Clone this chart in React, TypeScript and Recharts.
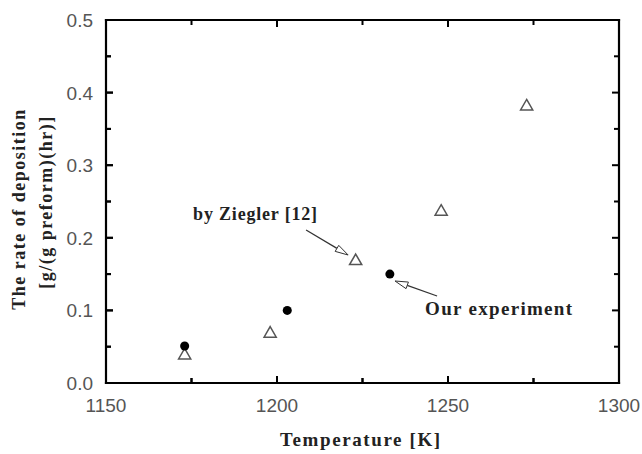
import { ScatterChart, Scatter, XAxis, YAxis, ZAxis, ReferenceLine } from 'recharts';

const xTicks = [1150, 1175, 1200, 1225, 1250, 1275, 1300];
const yTicks = [0, 0.05, 0.1, 0.15, 0.2, 0.25, 0.3, 0.35, 0.4, 0.45, 0.5];

const ourTemp = [1173, 1203, 1233];
const ourRate = [0.051, 0.1, 0.15];

const zieglerTemp = [1173, 1198, 1223, 1248, 1273];
const zieglerRate = [0.038, 0.068, 0.168, 0.236, 0.381];

const ourData = ourTemp.map((t, i) => ({ t, r: ourRate[i] }));
const zieglerData = zieglerTemp.map((t, i) => ({ t, r: zieglerRate[i] }));

const X0 = 1150;
const X1 = 1300;
const Y0 = 0;
const Y1 = 0.5;

const serif = '"Liberation Serif", "Times New Roman", serif';
const sans = '"Liberation Sans", Arial, sans-serif';

const isMajorX = (v: number) => v % 50 === 0;
const isMajorY = (v: number) => Math.round(v * 100) % 10 === 0;

const XTickLabel = (props: any) => {
  const { x, y, payload } = props;
  const v = payload.value;
  return (
    <g>
      <line x1={x} y1={y} x2={x} y2={y - (isMajorX(v) ? 7 : 5)} stroke="#000" strokeWidth={2} />
      {isMajorX(v) && (
        <text x={x} y={y + 29} textAnchor="middle" fontFamily={sans} fontSize={19} fill="#555">
          {v}
        </text>
      )}
    </g>
  );
};

const YTickLabel = (props: any) => {
  const { x, y, payload } = props;
  const v = payload.value;
  return (
    <g>
      <line x1={x} y1={y} x2={x + (isMajorY(v) ? 7 : 5)} y2={y} stroke="#000" strokeWidth={2} />
      {isMajorY(v) && (
        <text x={x - 13} y={y + 7} textAnchor="end" fontFamily={sans} fontSize={19} fill="#555">
          {v.toFixed(1)}
        </text>
      )}
    </g>
  );
};

// arrow with its note text, placed relative to the arrow's tail
const Arrow = (text: string, size: number, width: number, dx: number, dy: number) => (props: any) => {
  const { x1, y1, x2, y2 } = props;
  const ang = Math.atan2(y2 - y1, x2 - x1);
  const hl = 13;
  const hw = 3.5;
  const bx = x2 - hl * Math.cos(ang);
  const by = y2 - hl * Math.sin(ang);
  const px = -Math.sin(ang) * hw;
  const py = Math.cos(ang) * hw;
  return (
    <g>
      <line x1={x1} y1={y1} x2={bx} y2={by} stroke="#333" strokeWidth={1.2} />
      <polygon points={`${x2},${y2} ${bx + px},${by + py} ${bx - px},${by - py}`} fill="#fff" stroke="#333" strokeWidth={1} />
      <text x={x1 + dx} y={y1 + dy} fontFamily={serif} fontWeight="bold" fontSize={size} fill="#222" textLength={width} lengthAdjust="spacing">
        {text}
      </text>
    </g>
  );
};

// short inward tick drawn from the first point of the segment
const InTick = (dx: number, dy: number) => (props: any) => {
  const { x1, y1 } = props;
  return <line x1={x1} y1={y1} x2={x1 + dx} y2={y1 + dy} stroke="#000" strokeWidth={2} />;
};

const Frame = (props: any) => {
  const { x1, y1, x2, y2 } = props;
  return <line x1={x1} y1={y1} x2={x2} y2={y2} stroke="#000" strokeWidth={2.2} strokeLinecap="square" />;
};

const titleStyle: any = {
  position: 'absolute',
  fontFamily: serif,
  fontWeight: 'bold',
  color: '#222',
  whiteSpace: 'nowrap',
  lineHeight: '1',
};

export default function App() {
  return (
    <div style={{ position: 'absolute', left: 0, top: 0, width: 642, height: 454, background: '#fff' }}>
      <ScatterChart width={642} height={454} margin={{ top: 20, right: 23, bottom: 0, left: 0 }}>
        <XAxis
          dataKey="t"
          type="number"
          domain={[X0, X1]}
          ticks={xTicks}
          height={71}
          tickSize={0}
          tickMargin={0}
          tickLine={false}
          axisLine={{ stroke: '#000', strokeWidth: 2 }}
          tick={<XTickLabel />}
          interval={0}
        />
        <YAxis
          dataKey="r"
          type="number"
          domain={[Y0, Y1]}
          ticks={yTicks}
          width={106}
          tickSize={0}
          tickMargin={0}
          tickLine={false}
          axisLine={{ stroke: '#000', strokeWidth: 2 }}
          tick={<YTickLabel />}
          interval={0}
        />
        <ZAxis range={[56, 56]} />

        <Scatter data={zieglerData} shape="triangle" fill="#fff" stroke="#555" strokeWidth={1.5} isAnimationActive={false} />
        <Scatter data={ourData} shape="circle" fill="#000" isAnimationActive={false} />
        <ReferenceLine
          segment={[{ x: 1208.5, y: 0.2107 }, { x: 1220.8, y: 0.1763 }]}
          shape={Arrow('by Ziegler [12]', 18, 124, -113, -10)}
        />
        <ReferenceLine
          segment={[{ x: 1246.8, y: 0.1198 }, { x: 1234.5, y: 0.1405 }]}
          shape={Arrow('Our experiment', 19, 147, -12, 19)}
        />

        {xTicks.map((v) => (
          <ReferenceLine key={`xb${v}`} segment={[{ x: v, y: Y0 }, { x: v, y: Y1 }]} shape={InTick(0, isMajorX(v) ? -7 : -5)} ifOverflow="visible" />
        ))}
        {xTicks.map((v) => (
          <ReferenceLine key={`xt${v}`} segment={[{ x: v, y: Y1 }, { x: v, y: Y0 }]} shape={InTick(0, isMajorX(v) ? 7 : 5)} ifOverflow="visible" />
        ))}
        {yTicks.map((v) => (
          <ReferenceLine key={`yl${v}`} segment={[{ x: X0, y: v }, { x: X1, y: v }]} shape={InTick(isMajorY(v) ? 7 : 5, 0)} ifOverflow="visible" />
        ))}
        {yTicks.map((v) => (
          <ReferenceLine key={`yr${v}`} segment={[{ x: X1, y: v }, { x: X0, y: v }]} shape={InTick(isMajorY(v) ? -7 : -5, 0)} ifOverflow="visible" />
        ))}
        <ReferenceLine segment={[{ x: X0, y: Y0 }, { x: X1, y: Y0 }]} shape={Frame} ifOverflow="visible" />
        <ReferenceLine segment={[{ x: X0, y: Y1 }, { x: X1, y: Y1 }]} shape={Frame} ifOverflow="visible" />
        <ReferenceLine segment={[{ x: X0, y: Y0 }, { x: X0, y: Y1 }]} shape={Frame} ifOverflow="visible" />
        <ReferenceLine segment={[{ x: X1, y: Y0 }, { x: X1, y: Y1 }]} shape={Frame} ifOverflow="visible" />
      </ScatterChart>
      <div style={{ ...titleStyle, left: 280, top: 430, fontSize: 19, letterSpacing: '1.6px' }}>Temperature [K]</div>
      <div
        style={{
          ...titleStyle,
          left: 19,
          top: 209,
          fontSize: 18,
          letterSpacing: '1.5px',
          transform: 'translate(-50%, -50%) rotate(-90deg)',
        }}
      >
        The rate of deposition
      </div>
      <div
        style={{
          ...titleStyle,
          left: 46,
          top: 202,
          fontSize: 18,
          letterSpacing: '1.5px',
          transform: 'translate(-50%, -50%) rotate(-90deg)',
        }}
      >
        [g/(g preform)(hr)]
      </div>
    </div>
  );
}
